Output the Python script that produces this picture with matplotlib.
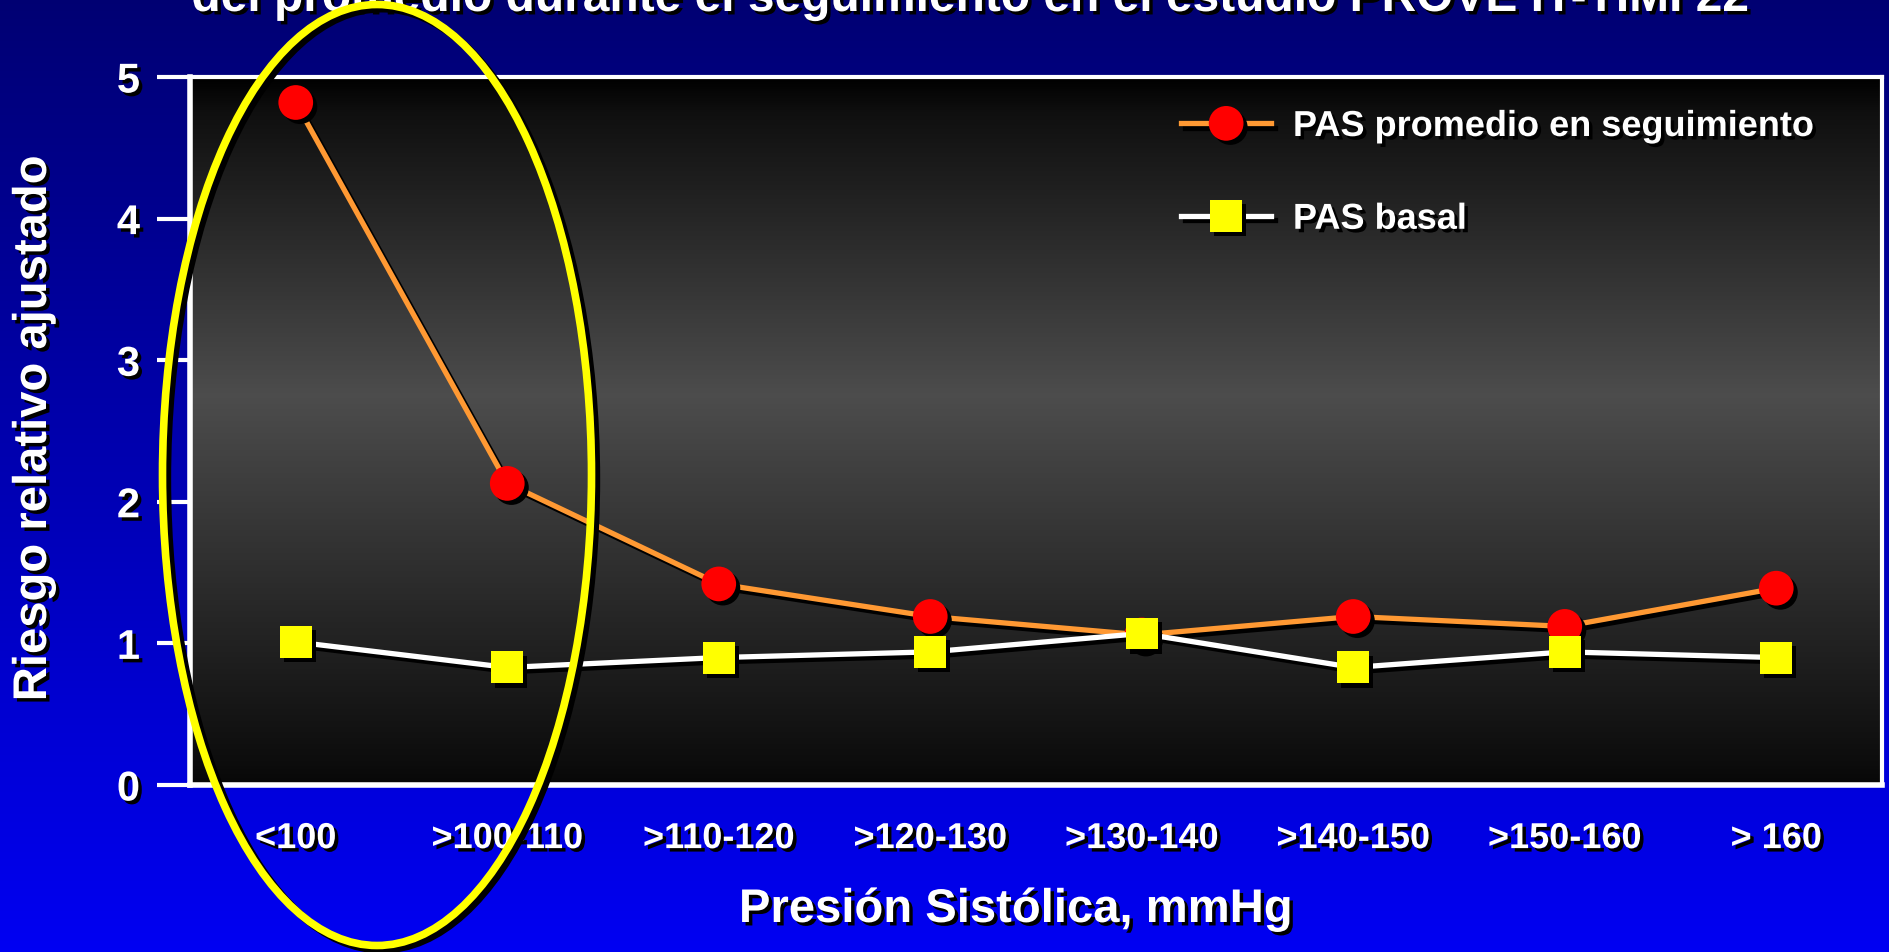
import numpy as np
import matplotlib
matplotlib.use("Agg")
import matplotlib.pyplot as plt
import matplotlib.patheffects as pe
from matplotlib.patches import Ellipse
from matplotlib.legend_handler import HandlerTuple

plt.rcParams["font.family"] = ["Liberation Sans", "DejaVu Sans"]
plt.rcParams["font.weight"] = "bold"

# Datos
categorias = ["<100", ">100-110", ">110-120", ">120-130", ">130-140",
              ">140-150", ">150-160", "> 160"]
pas_promedio = [4.82, 2.13, 1.42, 1.19, 1.06, 1.19, 1.12, 1.39]
pas_basal = [1.01, 0.83, 0.90, 0.94, 1.07, 0.83, 0.94, 0.90]
y_ticks = [0, 1, 2, 3, 4, 5]

titulo = "del promedio durante el seguimiento en el estudio PROVE IT-TIMI 22"
etiqueta_x = "Presión Sistólica, mmHg"
etiqueta_y = "Riesgo relativo ajustado"
leyenda = ["PAS promedio en seguimiento", "PAS basal"]

W, H = 1889, 952
fig = plt.figure(figsize=(W / 100, H / 100), dpi=100)

# fondo azul degradado
bg = fig.add_axes([0, 0, 1, 1], zorder=-10)
g = np.linspace(0, 1, 256).reshape(-1, 1)
rgb = np.zeros((256, 1, 3))
rgb[..., 2] = 0.45 + 0.5 * g
bg.imshow(rgb, aspect="auto", extent=[0, 1, 0, 1], origin="upper")
bg.set_axis_off()

sombra_txt = [pe.withSimplePatchShadow(offset=(2.5, -2.5), shadow_rgbFace="black", alpha=1)]

ax = fig.add_axes([190 / W, 1 - 785 / H, (1882 - 190) / W, (785 - 77) / H])

# fondo gris degradado del área de trazado
t = np.linspace(0, 1, 256)
gris = np.interp(t, [0, 0.05, 0.45, 0.97, 1.0], [0.0, 0.06, 0.30, 0.05, 0.03])
ax.imshow(np.dstack([gris, gris, gris]).reshape(-1, 1, 3), aspect="auto",
          extent=[-0.5, len(categorias) - 0.5, 0, 5], origin="upper", zorder=0)

x = np.arange(len(categorias))
sombra_linea = [pe.SimpleLineShadow(offset=(3, -3), shadow_color="black", alpha=1), pe.Normal()]
sombra_marca = [pe.SimplePatchShadow(offset=(3, -3), shadow_rgbFace="black", alpha=1), pe.Normal()]

l1, = ax.plot(x, pas_promedio, color="#FF9933", lw=3.8, zorder=3, path_effects=sombra_linea)
m1, = ax.plot(x, pas_promedio, ls="none", marker="o", ms=25, mfc="#FF0000", mec="#FF0000",
              mew=0, zorder=4, path_effects=sombra_marca)
l2, = ax.plot(x, pas_basal, color="white", lw=3.8, zorder=5, path_effects=sombra_linea)
m2, = ax.plot(x, pas_basal, ls="none", marker="s", ms=23, mfc="#FFFF00", mec="#FFFF00",
              mew=0, zorder=6, path_effects=sombra_marca)

ax.set_xlim(-0.5, len(categorias) - 0.5)
ax.set_ylim(0, 5)
ax.set_xticks(x)
ax.set_xticklabels(categorias)
ax.set_yticks(y_ticks)
ax.tick_params(axis="x", length=0, pad=26, labelsize=26, labelcolor="white")
ax.tick_params(axis="y", length=24, width=3, color="white", direction="out",
               pad=12, labelsize=30, labelcolor="white")
for lab in ax.get_xticklabels() + ax.get_yticklabels():
    lab.set_fontweight("bold")
    lab.set_path_effects(sombra_txt)

for lado, ancho in [("left", 4), ("bottom", 4), ("top", 3), ("right", 3)]:
    ax.spines[lado].set_color("white")
    ax.spines[lado].set_linewidth(ancho)

fig.text(1016 / W, 1 - 910 / H, etiqueta_x, color="white", fontsize=34, fontweight="bold",
         ha="center", va="center", path_effects=sombra_txt)
fig.text(34 / W, 1 - 428 / H, etiqueta_y, color="white", fontsize=34, fontweight="bold",
         ha="center", va="center", rotation=90, path_effects=sombra_txt)
fig.text(970 / W, 1 - 11 / H, titulo, color="white", fontsize=34.5, fontweight="bold",
         ha="center", va="baseline", path_effects=sombra_txt)

leg = fig.legend([(l1, m1), (l2, m2)], leyenda, loc="upper left",
                 bbox_to_anchor=(1181 / W, 1 - 109 / H), frameon=False,
                 fontsize=26, handlelength=2.5, handletextpad=0.6, labelspacing=1.6,
                 borderpad=0, borderaxespad=0,
                 handler_map={tuple: HandlerTuple(ndivide=1, pad=0)})
for txt in leg.get_texts():
    txt.set_color("white")
    txt.set_fontweight("bold")
    txt.set_path_effects(sombra_txt)

# elipse amarilla resaltando el extremo izquierdo
elipse = Ellipse((377 / W, 1 - 475 / H), 429 / W, 941 / H, transform=fig.transFigure,
                 fill=False, edgecolor="#FFFF00", lw=5.5, zorder=20,
                 path_effects=[pe.SimpleLineShadow(offset=(3.5, -3), shadow_color="black", alpha=1),
                               pe.Normal()])
fig.add_artist(elipse)

fig.savefig("out.png", dpi=100)
